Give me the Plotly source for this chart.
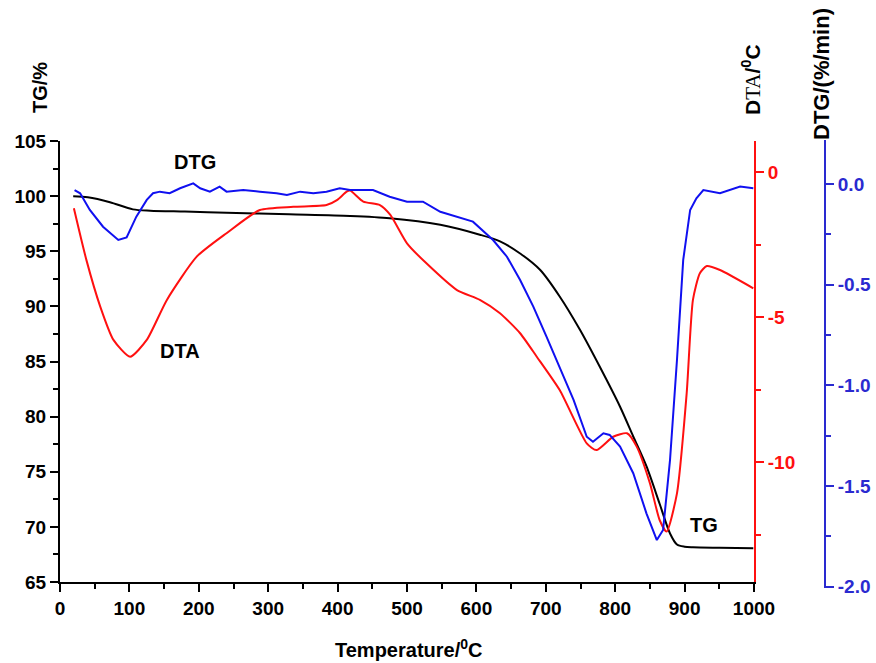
import plotly.graph_objects as go

# ---- thermal analysis data (temperature in °C) ----
tg_temp = [19, 40, 72, 105, 130, 180, 240, 330, 418, 475, 548, 605, 634, 663, 692,
           720, 749, 778, 807, 826, 845, 864, 879, 889, 900, 912, 950, 999]
tg_mass = [100.0, 99.9, 99.45, 98.8, 98.68, 98.6, 98.5, 98.35, 98.2, 98.0, 97.4, 96.5,
           95.9, 94.8, 93.3, 90.9, 87.9, 84.5, 80.9, 78.2, 75.5, 72.1, 69.4, 68.4,
           68.2, 68.15, 68.1, 68.05]

dta_temp = [20, 38, 58, 77, 101, 125, 154, 197, 240, 288, 336, 384, 399, 413, 418,
            437, 461, 476, 500, 528, 572, 605, 634, 663, 687, 720, 759, 773, 797,
            817, 831, 850, 864, 874, 889, 903, 912, 922, 932, 951, 999]
dta_val = [-1.25, -3.03, -4.64, -5.79, -6.37, -5.79, -4.41, -2.92, -2.11, -1.31, -1.20,
           -1.14, -0.97, -0.68, -0.64, -1.02, -1.14, -1.48, -2.46, -3.15, -4.07, -4.41,
           -4.87, -5.56, -6.37, -7.52, -9.36, -9.59, -9.13, -9.01, -9.47, -10.73, -12.0,
           -12.4, -11.08, -7.63, -4.41, -3.49, -3.24, -3.38, -4.01]

dtg_temp = [21, 29, 43, 62, 84, 96, 110, 125, 134, 144, 158, 173, 192, 202, 216, 230,
            240, 264, 288, 312, 327, 346, 365, 384, 403, 418, 451, 475, 500, 523, 548,
            595, 624, 644, 663, 682, 701, 720, 740, 759, 768, 783, 792, 807, 826, 845,
            860, 869, 879, 889, 898, 908, 917, 927, 951, 980, 999]
dtg_val = [-0.030, -0.046, -0.129, -0.212, -0.278, -0.265, -0.162, -0.079, -0.046,
           -0.038, -0.046, -0.021, 0.003, -0.021, -0.038, -0.013, -0.038, -0.030,
           -0.038, -0.046, -0.055, -0.038, -0.046, -0.038, -0.021, -0.030, -0.030,
           -0.063, -0.088, -0.088, -0.138, -0.187, -0.278, -0.361, -0.477, -0.609,
           -0.758, -0.907, -1.072, -1.255, -1.280, -1.238, -1.246, -1.304, -1.436,
           -1.635, -1.768, -1.718, -1.370, -0.874, -0.377, -0.129, -0.071, -0.030,
           -0.046, -0.013, -0.021]

x_ticks = list(range(0, 1001, 100))
tg_ticks = list(range(65, 106, 5))
dta_ticks = [0, -5, -10]
dta_labels = ["0", "-5", "-10"]
dtg_ticks = [0.0, -0.5, -1.0, -1.5, -2.0]
dtg_labels = ["0.0", "-0.5", "-1.0", "-1.5", "-2.0"]

W, H = 876, 663
ML, MR, MT, MB = 60, 46, 140, 75
PW, PH = W - ML - MR, H - MT - MB


def px(x):
    return (x - ML) / PW


def py(y):
    return (H - MB - y) / PH


RED = "#ff1010"
BLUE = "#1010f0"
BLUE_AX = "#2a2ad0"
FONT = "Liberation Sans, Arial, sans-serif"

fig = go.Figure()
fig.add_trace(go.Scatter(x=tg_temp, y=tg_mass, mode="lines",
                         line=dict(color="black", width=2, shape="spline", smoothing=0.8),
                         xaxis="x", yaxis="y", showlegend=False))
fig.add_trace(go.Scatter(x=dta_temp, y=dta_val, mode="lines",
                         line=dict(color=RED, width=2, shape="spline", smoothing=0.6),
                         xaxis="x", yaxis="y2", showlegend=False))
fig.add_trace(go.Scatter(x=dtg_temp, y=dtg_val, mode="lines",
                         line=dict(color=BLUE, width=2),
                         xaxis="x", yaxis="y3", showlegend=False))


def tfont(color):
    return dict(family=FONT, size=19, color=color, weight="bold")


fig.update_layout(
    width=W, height=H,
    margin=dict(l=ML, r=MR, t=MT, b=MB, pad=0, autoexpand=False),
    paper_bgcolor="white", plot_bgcolor="rgba(0,0,0,0)",
    xaxis=dict(domain=[0, px(754)], range=[0, 1000], tickvals=x_ticks,
               showgrid=False, zeroline=False, showline=True, linecolor="black",
               linewidth=2, ticks="outside", ticklen=8, tickwidth=2, automargin=False,
               tickcolor="black", tickfont=tfont("black"), anchor="y",
               minor=dict(dtick=50, tick0=0, ticks="outside", ticklen=5,
                          tickwidth=2, tickcolor="black")),
    yaxis=dict(domain=[py(582), py(141)], range=[65, 105], tickvals=tg_ticks,
               showgrid=False, zeroline=False, showline=True, linecolor="black",
               linewidth=2, ticks="outside", ticklen=8, tickwidth=2, automargin=False,
               tickcolor="black", tickfont=tfont("black"), anchor="x",
               minor=dict(dtick=2.5, tick0=65, ticks="outside", ticklen=5,
                          tickwidth=2, tickcolor="black")),
    yaxis2=dict(overlaying="y", side="right", anchor="x", automargin=False,
                range=[-(582 - 172) / 29, (172 - 141) / 29],
                tickvals=dta_ticks, ticktext=dta_labels,
                showgrid=False, zeroline=False, showline=True, linecolor=RED,
                linewidth=2, ticks="outside", ticklen=8, tickwidth=2,
                tickcolor=RED, tickfont=tfont(RED),
                minor=dict(dtick=2.5, tick0=0, ticks="outside", ticklen=5,
                           tickwidth=2, tickcolor=RED)),
    yaxis3=dict(domain=[0, 1], side="right", anchor="free", position=px(825),
                automargin=False,
                range=[-(588 - 184) / 201.4, (184 - 140) / 201.4],
                tickvals=dtg_ticks, ticktext=dtg_labels,
                showgrid=False, zeroline=False, showline=True, linecolor=BLUE_AX,
                linewidth=2, ticks="outside", ticklen=8, tickwidth=2,
                tickcolor=BLUE_AX, tickfont=tfont(BLUE_AX),
                minor=dict(dtick=0.25, tick0=0, ticks="outside", ticklen=5,
                           tickwidth=2, tickcolor=BLUE_AX)),
)


def bfont(size):
    return dict(family=FONT, size=size, color="black")


notes = [
    ("<b>DTG</b>", 195, 162, 0, bfont(20)),
    ("<b>DTA</b>", 180, 351, 0, bfont(20)),
    ("<b>TG</b>", 704, 525, 0, bfont(20)),
    ("<b>TG/%</b>", 40, 88, -90, bfont(20)),
    ("<b>D</b><span style='font-family:Liberation Serif, Times New Roman, serif'>TA</span><b>/<sup>0</sup>C</b>",
     751, 80, -90, bfont(21)),
    ("<b>DTG/(%/min)</b>", 822, 74, -90, bfont(22)),
    ("<b>Temperature/<sup>0</sup>C</b>", 408, 648, 0, bfont(20)),
]
for text, x, y, ang, font in notes:
    fig.add_annotation(text=text, x=px(x), y=py(y), xref="paper", yref="paper",
                       showarrow=False, textangle=ang, font=font,
                       xanchor="center", yanchor="middle")

fig.write_html("out.html")
